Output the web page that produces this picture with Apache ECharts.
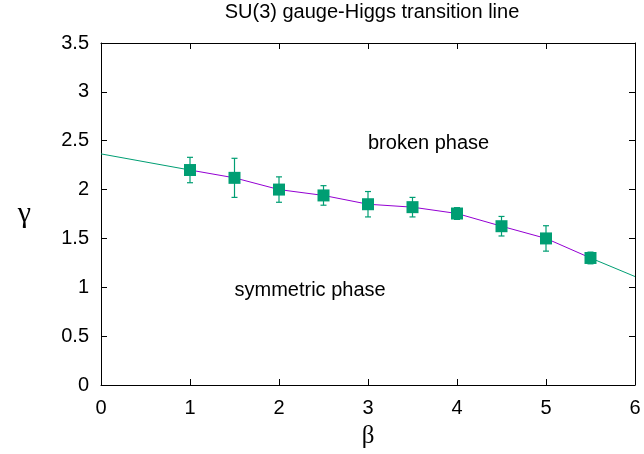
<!DOCTYPE html>
<html>
<head>
<meta charset="utf-8">
<script src="https://cdn.jsdelivr.net/npm/echarts@6/dist/echarts.min.js"></script>
<style>
html,body{margin:0;padding:0;background:#fff;}
#chart{width:644px;height:454px;}
</style>
</head>
<body>
<div id="chart"></div>
<script>
// ---- data ----
var titleText = 'SU(3) gauge-Higgs transition line';
var betaValues = [1.0, 1.5, 2.0, 2.5, 3.0, 3.5, 4.0, 4.5, 5.0, 5.5];
var gammaValues = [2.20, 2.12, 2.00, 1.94, 1.85, 1.82, 1.755, 1.625, 1.50, 1.30];
var gammaErrors = [0.13, 0.20, 0.13, 0.10, 0.13, 0.10, 0.06, 0.10, 0.13, 0.06];
var extLeftBeta = [0.0, 1.0];
var extLeftGamma = [2.365, 2.20];
var extRightBeta = [5.5, 6.0];
var extRightGamma = [1.30, 1.11];
var xTicks = [0, 1, 2, 3, 4, 5, 6];
var yTicks = [0, 0.5, 1, 1.5, 2, 2.5, 3, 3.5];
var phaseLabels = ['broken phase', 'symmetric phase'];
var phaseBeta = [3.0, 1.5];
var phaseGamma = [2.5, 1.0];

function zip(a, b) { return a.map(function (v, i) { return [v, b[i]]; }); }

var chart = echarts.init(document.getElementById('chart'));
var FONT = 'Liberation Sans';
var GREEN = '#009e73';
var PURPLE = '#9400d3';

var tickFmt = function (v) { return String(v); };

var option = {
  animation: false,
  backgroundColor: '#fff',
  title: {
    text: titleText,
    left: 367, top: -3, textAlign: 'center',
    textStyle: { fontFamily: FONT, fontSize: 20, fontWeight: 'normal', color: '#000' }
  },
  grid: { left: 101, right: 9, top: 43, bottom: 66, containLabel: false },
  xAxis: [{
    type: 'value', min: xTicks[0], max: xTicks[xTicks.length - 1], interval: 1,
    name: 'β', nameLocation: 'middle', nameGap: 39,
    nameTextStyle: { fontFamily: 'Liberation Serif', fontSize: 25, color: '#000' },
    axisLine: { show: true, onZero: false, lineStyle: { color: '#000', width: 1 } },
    axisTick: { show: true, inside: true, length: 6, lineStyle: { color: '#000' } },
    axisLabel: { fontFamily: FONT, fontSize: 20, color: '#000', margin: 13, formatter: tickFmt },
    splitLine: { show: false }
  }, {
    type: 'value', position: 'top', min: xTicks[0], max: xTicks[xTicks.length - 1], interval: 1,
    axisLine: { show: true, onZero: false, lineStyle: { color: '#000', width: 1 } },
    axisTick: { show: true, inside: true, length: 6, lineStyle: { color: '#000' } },
    axisLabel: { show: false }, splitLine: { show: false }
  }],
  yAxis: [{
    type: 'value', min: yTicks[0], max: yTicks[yTicks.length - 1], interval: 0.5,
    name: 'γ', nameLocation: 'middle', nameGap: 70, nameRotate: 0,
    nameTextStyle: { fontFamily: 'Liberation Serif', fontSize: 30, color: '#000' },
    axisLine: { show: true, onZero: false, lineStyle: { color: '#000', width: 1 } },
    axisTick: { show: true, inside: true, length: 6, lineStyle: { color: '#000' } },
    axisLabel: { fontFamily: FONT, fontSize: 20, color: '#000', margin: 12, formatter: tickFmt },
    splitLine: { show: false }
  }, {
    type: 'value', position: 'right', min: yTicks[0], max: yTicks[yTicks.length - 1], interval: 0.5,
    axisLine: { show: true, onZero: false, lineStyle: { color: '#000', width: 1 } },
    axisTick: { show: true, inside: true, length: 6, lineStyle: { color: '#000' } },
    axisLabel: { show: false }, splitLine: { show: false }
  }],
  series: [
    {
      type: 'line', data: zip(extLeftBeta, extLeftGamma), symbol: 'none',
      lineStyle: { color: GREEN, width: 1 }, z: 2
    },
    {
      type: 'line', data: zip(extRightBeta, extRightGamma), symbol: 'none',
      lineStyle: { color: GREEN, width: 1 }, z: 2
    },
    {
      type: 'line', data: zip(betaValues, gammaValues), symbol: 'none',
      lineStyle: { color: PURPLE, width: 1 }, z: 2
    },
    {
      type: 'custom', z: 3,
      data: betaValues.map(function (b, i) { return [b, gammaValues[i], gammaErrors[i]]; }),
      renderItem: function (params, api) {
        var x = api.value(0), y = api.value(1), e = api.value(2);
        var top = api.coord([x, y + e]);
        var bot = api.coord([x, y - e]);
        var hw = 3;
        var style = { stroke: GREEN, lineWidth: 1.2 };
        return {
          type: 'group',
          children: [
            { type: 'line', shape: { x1: top[0], y1: top[1], x2: bot[0], y2: bot[1] }, style: style },
            { type: 'line', shape: { x1: top[0] - hw, y1: top[1], x2: top[0] + hw, y2: top[1] }, style: style },
            { type: 'line', shape: { x1: bot[0] - hw, y1: bot[1], x2: bot[0] + hw, y2: bot[1] }, style: style }
          ]
        };
      }
    },
    {
      type: 'scatter', data: zip(betaValues, gammaValues), symbol: 'rect', symbolSize: 12,
      itemStyle: { color: GREEN, opacity: 1 }, z: 4
    },
    {
      type: 'scatter', z: 5, symbolSize: 0, silent: true,
      itemStyle: { opacity: 1 },
      data: phaseLabels.map(function (t, i) { return { value: [phaseBeta[i], phaseGamma[i]], name: t }; }),
      label: {
        show: true, position: 'right', distance: 0, opacity: 1, offset: [0, 3],
        formatter: function (p) { return p.name; },
        fontFamily: FONT, fontSize: 20, color: '#000'
      }
    }
  ]
};
chart.setOption(option);
</script>
</body>
</html>
